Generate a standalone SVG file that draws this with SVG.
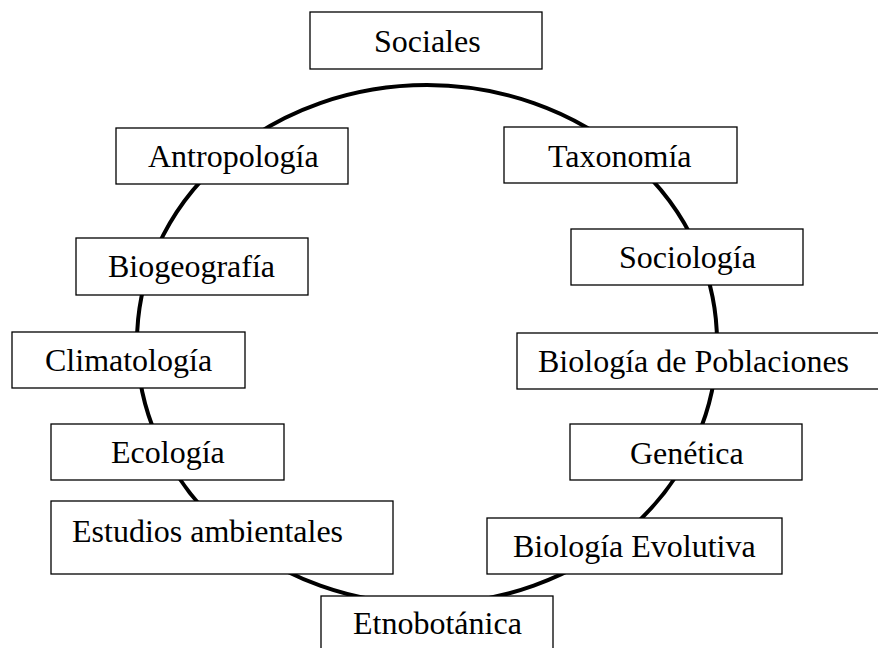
<svg xmlns="http://www.w3.org/2000/svg" width="878" height="648" viewBox="0 0 878 648">
<style>
.box{fill:#fff;stroke:#000;stroke-width:1.3}
.lbl{font-family:"Liberation Serif","Times New Roman",serif;font-size:32px;fill:#000}
.ring{fill:none;stroke:#000;stroke-width:4}
</style>
<rect width="878" height="648" fill="#fff"/>
<g id="connectors">
<path class="ring" d="M 137 342 A 290 257 0 0 1 717 342 A 290 262 0 0 1 137 342 Z"/>
</g>
<g id="sociales"><rect class="box" x="310" y="12" width="232" height="57"/><text class="lbl" x="374" y="52">Sociales</text></g>
<g id="antropologia"><rect class="box" x="116" y="128" width="232" height="56"/><text class="lbl" x="148" y="167">Antropología</text></g>
<g id="taxonomia"><rect class="box" x="504" y="127" width="233" height="56"/><text class="lbl" x="548" y="167">Taxonomía</text></g>
<g id="biogeografia"><rect class="box" x="76" y="238" width="232" height="57"/><text class="lbl" x="108" y="277">Biogeografía</text></g>
<g id="sociologia"><rect class="box" x="571" y="229" width="232" height="56"/><text class="lbl" x="619" y="268">Sociología</text></g>
<g id="climatologia"><rect class="box" x="12" y="332" width="233" height="56"/><text class="lbl" x="45" y="371">Climatología</text></g>
<g id="biologia-poblaciones"><rect class="box" x="517" y="333" width="370" height="56"/><text class="lbl" x="538" y="372">Biología de Poblaciones</text></g>
<g id="ecologia"><rect class="box" x="51" y="424" width="233" height="56"/><text class="lbl" x="111" y="463">Ecología</text></g>
<g id="genetica"><rect class="box" x="570" y="424" width="232" height="56"/><text class="lbl" x="630" y="464">Genética</text></g>
<g id="estudios-ambientales"><rect class="box" x="51" y="501" width="342" height="73"/><text class="lbl" x="72" y="542">Estudios ambientales</text></g>
<g id="biologia-evolutiva"><rect class="box" x="487" y="518" width="295" height="56"/><text class="lbl" x="513" y="557">Biología Evolutiva</text></g>
<g id="etnobotanica"><rect class="box" x="321" y="596" width="232" height="70"/><text class="lbl" x="353" y="634">Etnobotánica</text></g>
</svg>
